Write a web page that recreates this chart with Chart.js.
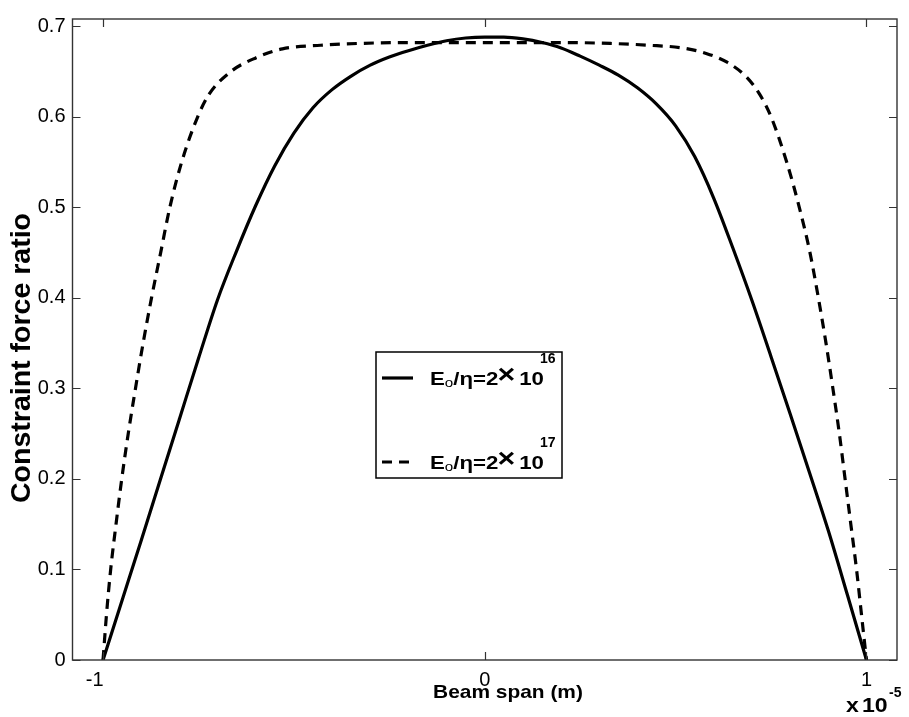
<!DOCTYPE html>
<html>
<head>
<meta charset="utf-8">
<script src="https://cdn.jsdelivr.net/npm/chart.js@4.4.1/dist/chart.umd.min.js"></script>
<style>
  html, body { margin: 0; padding: 0; background: #fff; }
  #wrap { width: 909px; height: 717px; position: relative; }
</style>
</head>
<body>
<div id="wrap"><canvas id="c" width="909" height="717"></canvas></div>
<script>
// ---- data (x in units of 1e-5 m) ----
const spanSolid = [-1.0, -0.95, -0.90, -0.85, -0.80, -0.75, -0.70, -0.65, -0.60, -0.55, -0.50, -0.45, -0.40, -0.35, -0.30, -0.25, -0.20, -0.15, -0.10, -0.05, 0.0, 0.05, 0.10, 0.15, 0.20, 0.25, 0.30, 0.35, 0.40, 0.45, 0.50, 0.55, 0.60, 0.65, 0.70, 0.75, 0.80, 0.85, 0.90, 0.95, 1.0];
const ratioSolid = [0, 0.066, 0.132, 0.199, 0.266, 0.333, 0.398, 0.452, 0.502, 0.546, 0.582, 0.610, 0.630, 0.645, 0.657, 0.666, 0.673, 0.679, 0.684, 0.687, 0.688, 0.688, 0.686, 0.682, 0.676, 0.667, 0.657, 0.646, 0.632, 0.614, 0.590, 0.556, 0.510, 0.455, 0.397, 0.335, 0.272, 0.208, 0.143, 0.072, 0];

const spanDashed = [-1.0, -0.991, -0.980, -0.966, -0.951, -0.934, -0.915, -0.895, -0.873, -0.849, -0.825, -0.794, -0.752, -0.722, -0.665, -0.60, -0.53, -0.43, -0.33, -0.2, 0.0, 0.2, 0.33, 0.43, 0.518, 0.58, 0.636, 0.683, 0.720, 0.750, 0.791, 0.824, 0.852, 0.874, 0.894, 0.912, 0.929, 0.944, 0.959, 0.974, 0.987, 1.0];
const ratioDashed = [0, 0.05, 0.10, 0.15, 0.20, 0.25, 0.30, 0.35, 0.40, 0.45, 0.50, 0.55, 0.60, 0.625, 0.65, 0.665, 0.675, 0.679, 0.681, 0.682, 0.682, 0.682, 0.681, 0.679, 0.676, 0.670, 0.660, 0.645, 0.625, 0.60, 0.55, 0.50, 0.45, 0.40, 0.35, 0.30, 0.25, 0.20, 0.15, 0.10, 0.05, 0];

const seriesLabels = ['E\u2092/\u03b7=2\u00d710^16', 'E\u2092/\u03b7=2\u00d710^17'];
const legendExponents = ['16', '17'];
const xTickValues = [-1, 0, 1];
const yTickValues = [0, 0.1, 0.2, 0.3, 0.4, 0.5, 0.6, 0.7];
const xTitle = 'Beam span (m)';
const yTitle = 'Constraint force ratio';
const xExponent = '-5';

const FONT = "'Liberation Sans', Arial, Helvetica, sans-serif";

function toPts(xs, ys) { return xs.map((x, i) => ({ x: x, y: ys[i] })); }

// draw text with a horizontal stretch (as in the reference)
function stretchText(ctx, txt, x, y, sx) {
  ctx.save();
  ctx.translate(x, y);
  ctx.scale(sx, 1);
  ctx.fillText(txt, 0, 0);
  ctx.restore();
  return ctx.measureText(txt).width * sx;
}

const decor = {
  id: 'decor',
  afterDraw(chart) {
    const ctx = chart.ctx;
    const a = chart.chartArea;
    const xs = chart.scales.x, ys = chart.scales.y;
    ctx.save();
    // box
    ctx.strokeStyle = '#333';
    ctx.lineWidth = 1.4;
    ctx.strokeRect(a.left, a.top, a.right - a.left, a.bottom - a.top);
    // inward ticks
    const tl = 8;
    ctx.beginPath();
    xTickValues.forEach(v => {
      const px = Math.round(xs.getPixelForValue(v)) + 0.5;
      ctx.moveTo(px, a.bottom); ctx.lineTo(px, a.bottom - tl);
      ctx.moveTo(px, a.top); ctx.lineTo(px, a.top + tl);
    });
    yTickValues.forEach(v => {
      const py = Math.round(ys.getPixelForValue(v)) + 0.5;
      ctx.moveTo(a.left, py); ctx.lineTo(a.left + tl, py);
      ctx.moveTo(a.right, py); ctx.lineTo(a.right - tl, py);
    });
    ctx.lineWidth = 1.2;
    ctx.stroke();

    // axis titles
    ctx.fillStyle = '#000';
    ctx.font = 'bold 19px ' + FONT;
    ctx.textBaseline = 'middle';
    ctx.textAlign = 'left';
    const sx = 1.1;
    const w = ctx.measureText(xTitle).width * sx;
    stretchText(ctx, xTitle, 508 - w / 2, 693, sx);

    ctx.save();
    ctx.font = 'bold 27px ' + FONT;
    const wy = ctx.measureText(yTitle).width;
    ctx.translate(23, 358);
    ctx.rotate(-Math.PI / 2);
    ctx.scale(290 / wy, 1);
    ctx.textAlign = 'center';
    ctx.fillText(yTitle, 0, 0);
    ctx.restore();

    // x 10^-5
    ctx.textAlign = 'left';
    ctx.textBaseline = 'alphabetic';
    ctx.font = 'bold 21px ' + FONT;
    stretchText(ctx, 'x', 846, 712, 1.1);
    stretchText(ctx, '10', 862, 712, 1.1);
    ctx.font = 'bold 14px ' + FONT;
    ctx.fillText(xExponent, 889, 697);

    // legend
    const L = { left: 376, top: 352, right: 562, bottom: 478 };
    ctx.fillStyle = '#fff';
    ctx.fillRect(L.left, L.top, L.right - L.left, L.bottom - L.top);
    ctx.strokeStyle = '#000';
    ctx.lineWidth = 1.5;
    ctx.strokeRect(L.left, L.top, L.right - L.left, L.bottom - L.top);
    const rows = [378, 462];
    chart.data.datasets.forEach((ds, i) => {
      const y = rows[i];
      ctx.beginPath();
      ctx.strokeStyle = '#000';
      ctx.lineWidth = 3.2;
      ctx.setLineDash(ds.borderDash || []);
      ctx.moveTo(382, y); ctx.lineTo(413, y);
      ctx.stroke();
      ctx.setLineDash([]);
      let x = 430;
      const base = y + 7;
      const s = 1.17;
      ctx.fillStyle = '#000';
      ctx.font = 'bold 19px ' + FONT;
      x += stretchText(ctx, 'E', x, base, s);
      ctx.font = '13px ' + FONT;
      x += stretchText(ctx, 'o', x, base + 2, s);
      ctx.font = 'bold 19px ' + FONT;
      x += stretchText(ctx, '/\u03b7=2', x, base, s);
      ctx.font = 'bold 26px ' + FONT;
      x += stretchText(ctx, '\u00d7', x - 1, base - 2, s) + 3;
      ctx.font = 'bold 19px ' + FONT;
      x += stretchText(ctx, '10', x, base, s) + 2;
      ctx.font = 'bold 14px ' + FONT;
      ctx.fillText(legendExponents[i], x - 6, base - 22);
    });
    ctx.restore();
  }
};

new Chart(document.getElementById('c'), {
  type: 'line',
  data: {
    datasets: [
      { label: seriesLabels[0], data: toPts(spanSolid, ratioSolid), borderColor: '#000', borderWidth: 3.2, pointRadius: 0, fill: false, cubicInterpolationMode: 'monotone' },
      { label: seriesLabels[1], data: toPts(spanDashed, ratioDashed), borderColor: '#000', borderWidth: 3.2, borderDash: [10, 7], pointRadius: 0, fill: false, cubicInterpolationMode: 'monotone' }
    ]
  },
  options: {
    responsive: false,
    animation: false,
    devicePixelRatio: 1,
    layout: { padding: { top: 9, right: 12, left: 0, bottom: 0 } },
    plugins: { legend: { display: false }, tooltip: { enabled: false } },
    scales: {
      x: {
        type: 'linear', min: -1.08, max: 1.08,
        afterBuildTicks: s => { s.ticks = xTickValues.map(v => ({ value: v })); },
        afterFit: s => { s.height = 57; },
        grid: { display: false, drawTicks: false },
        border: { display: false },
        ticks: { color: '#000', font: { family: FONT, size: 20 }, padding: 8, maxRotation: 0, callback: v => (v < 0 ? String(v) + '   ' : String(v)) }
      },
      y: {
        type: 'linear', min: 0, max: 0.708,
        afterBuildTicks: s => { s.ticks = yTickValues.map(v => ({ value: v })); },
        afterFit: s => { s.width = 72.5; },
        grid: { display: false, drawTicks: false },
        border: { display: false },
        ticks: { color: '#000', font: { family: FONT, size: 20 }, padding: 7, callback: v => (v === 0 ? '0' : v.toFixed(1)) }
      }
    }
  },
  plugins: [decor]
});
</script>
</body>
</html>
